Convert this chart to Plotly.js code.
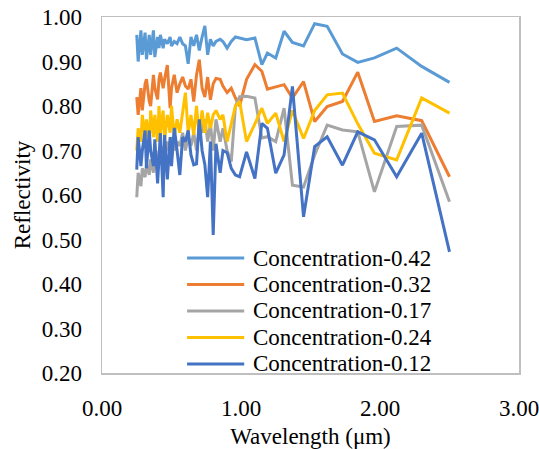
<!DOCTYPE html>
<html>
<head>
<meta charset="utf-8">
<script src="https://cdn.plot.ly/plotly-3.0.1.min.js"></script>
<style>html,body{margin:0;padding:0;background:#fff;}#chart{width:539px;height:449px;}</style>
</head>
<body>
<div id="chart"></div>
<script>
// Wavelength (µm), shared by all series
const wavelength = [0.25,0.26,0.28,0.29,0.31,0.32,0.34,0.35,0.37,0.38,0.40,0.41,0.42,0.44,0.45,0.47,0.49,0.50,0.52,0.54,0.56,0.58,0.60,0.62,0.64,0.66,0.68,0.70,0.72,0.74,0.76,0.78,0.80,0.82,0.85,0.87,0.90,0.93,0.96,
  0.99,1.04,1.10,1.15,1.19,1.25,1.31,1.37,1.45,1.53,1.62,1.73,1.84,1.96,2.12,2.30,2.50];

const conc042 = [0.96,0.90,0.97,0.915,0.965,0.905,0.96,0.915,0.97,0.91,0.955,0.93,0.96,0.93,0.95,0.94,0.955,0.935,0.945,0.94,0.955,0.94,0.935,0.895,0.955,0.935,0.96,0.925,0.955,0.98,0.915,0.95,0.935,0.945,0.95,0.945,0.93,0.945,0.955,
  0.953,0.949,0.953,0.893,0.919,0.908,0.968,0.943,0.935,0.985,0.979,0.917,0.898,0.908,0.930,0.889,0.853];

const conc032 = [0.82,0.78,0.84,0.79,0.85,0.86,0.81,0.80,0.87,0.84,0.815,0.86,0.875,0.84,0.86,0.892,0.795,0.84,0.87,0.83,0.85,0.865,0.845,0.838,0.86,0.81,0.87,0.904,0.84,0.82,0.865,0.814,0.85,0.862,0.86,0.845,0.83,0.84,0.818,
  0.80,0.86,0.893,0.878,0.838,0.843,0.848,0.818,0.855,0.765,0.799,0.81,0.876,0.765,0.778,0.767,0.641];

const conc017 = [0.595,0.65,0.62,0.66,0.64,0.67,0.645,0.68,0.65,0.70,0.66,0.70,0.67,0.71,0.68,0.72,0.69,0.73,0.70,0.72,0.71,0.74,0.70,0.73,0.71,0.74,0.70,0.75,0.74,0.77,0.72,0.76,0.70,0.77,0.72,0.75,0.70,0.675,0.80,
  0.821,0.822,0.818,0.728,0.731,0.72,0.795,0.622,0.618,0.69,0.757,0.746,0.742,0.607,0.754,0.757,0.585];

const conc024 = [0.70,0.75,0.72,0.78,0.73,0.77,0.72,0.79,0.73,0.78,0.72,0.80,0.74,0.79,0.72,0.78,0.74,0.80,0.73,0.77,0.74,0.79,0.83,0.74,0.78,0.735,0.80,0.73,0.79,0.74,0.785,0.75,0.78,0.79,0.77,0.78,0.72,0.76,0.80,
  0.81,0.72,0.76,0.795,0.761,0.784,0.72,0.79,0.727,0.79,0.825,0.829,0.76,0.694,0.679,0.818,0.784];

const conc012 = [0.657,0.73,0.665,0.70,0.745,0.66,0.745,0.70,0.665,0.725,0.626,0.70,0.739,0.595,0.735,0.635,0.73,0.665,0.751,0.70,0.645,0.73,0.72,0.745,0.69,0.668,0.67,0.77,0.70,0.668,0.595,0.72,0.51,0.715,0.65,0.70,0.695,0.66,0.645,
  0.641,0.697,0.637,0.761,0.75,0.649,0.69,0.844,0.551,0.709,0.731,0.667,0.742,0.724,0.641,0.739,0.472];

const seriesNames = ["Concentration-0.42","Concentration-0.32","Concentration-0.17","Concentration-0.24","Concentration-0.12"];
const seriesValues = [conc042, conc032, conc017, conc024, conc012];
const seriesColors = ["#5B9BD5","#ED7D31","#A5A5A5","#FFC000","#4472C4"];

const FONT = "Liberation Serif, Times New Roman, serif";

const traces = seriesNames.map((name, i) => ({
  type: "scatter", mode: "lines", name: name,
  x: wavelength, y: seriesValues[i],
  line: {color: seriesColors[i], width: 3},
  showlegend: false
}));

// Custom legend (Excel style, tight line spacing)
const shapes = [];
const annotations = [];
const legLineX0 = 0.204, legLineX1 = 0.341, legTextX = 0.357, legTopY = 0.323, legStep = 0.0744;
seriesNames.forEach((name, i) => {
  const yy = legTopY - i * legStep;
  shapes.push({type: "line", xref: "paper", yref: "paper", x0: legLineX0, x1: legLineX1, y0: yy, y1: yy,
    line: {color: seriesColors[i], width: 3}});
  annotations.push({xref: "paper", yref: "paper", x: legTextX, y: yy, xanchor: "left", yanchor: "middle",
    text: name, showarrow: false, font: {family: FONT, size: 23, color: "#000"}});
});

const layout = {
  width: 539, height: 449,
  margin: {l: 102, r: 20, t: 17, b: 76},
  paper_bgcolor: "#fff", plot_bgcolor: "#fff",
  font: {family: FONT, size: 23, color: "#000"},
  showlegend: false,
  xaxis: {
    range: [0, 3], dtick: 1, tick0: 0, tickformat: ".2f",
    showgrid: false, zeroline: false, showline: true, mirror: true,
    linecolor: "#BFBFBF", linewidth: 1.5, ticks: "", ticklabelstandoff: 14,
    ticklabeloverflow: "allow",
    title: {text: "Wavelength (μm)", font: {family: FONT, size: 23, color: "#000"}, standoff: 12},
    automargin: false
  },
  yaxis: {
    range: [0.2, 1.0], dtick: 0.1, tick0: 0.2, tickformat: ".2f",
    showgrid: false, zeroline: false, showline: true, mirror: true,
    linecolor: "#BFBFBF", linewidth: 1.5, ticks: "", ticklabelstandoff: 14,
    ticklabeloverflow: "allow",
    title: {text: "Reflectivity", font: {family: FONT, size: 23, color: "#000"}, standoff: 4},
    automargin: false
  },
  shapes: shapes,
  annotations: annotations
};

Plotly.newPlot("chart", traces, layout, {displayModeBar: false, staticPlot: true});
</script>
</body>
</html>
